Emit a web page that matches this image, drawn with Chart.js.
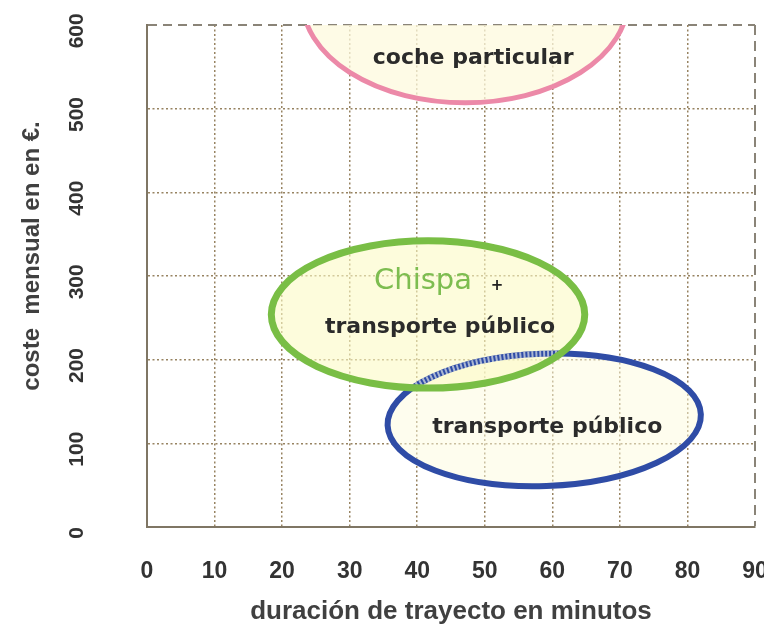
<!DOCTYPE html>
<html><head><meta charset="utf-8">
<style>html,body{margin:0;padding:0;background:#fff;}#wrap{width:764px;height:627px;}</style>
<script src="https://cdn.jsdelivr.net/npm/chart.js@4.4.0/dist/chart.umd.min.js"></script>
</head><body><div id="wrap"><canvas id="c" width="764" height="627"></canvas></div>
<script>
// ---- data ----
const xTickValues = [0, 10, 20, 30, 40, 50, 60, 70, 80, 90];
const yTickValues = [0, 100, 200, 300, 400, 500, 600];
const groupNames = ['coche particular', 'Chispa + transporte público', 'transporte público'];
const durationCenter = [47.1, 41.6, 58.8];      // minutes
const costCenter = [630, 254, 128];             // € / month
const durationHalfRange = [24.1, 23.2, 23.2];   // minutes
const costHalfRange = [123, 88, 79];            // €

// ---- styles ----
const FONT = '"Liberation Sans", Arial, sans-serif';
const LFONT = '"DejaVu Sans", sans-serif';
const ellipseStyles = [
  {stroke: '#ec89a8', fill: 'rgba(253,250,222,0.75)', width: 5, tilt: 0},
  {stroke: '#79be45', fill: 'rgba(252,250,196,0.6)', width: 7, tilt: 0},
  {stroke: '#2f4ca6', fill: 'rgba(253,252,222,0.5)', width: 6, tilt: -0.035}
];
const ellipseTexts = [
  [{text: 'coche particular', dx: 8, dy: 58, font: 'bold 22px ' + LFONT, color: '#2b2b2b'}],
  [{text: 'Chispa', dx: -5, dy: -33, font: '29px ' + LFONT, color: '#7dbd50'},
   {text: '+', dx: 69, dy: -28, font: 'bold 15px ' + LFONT, color: '#222'},
   {text: 'transporte público', dx: 12, dy: 13, font: 'bold 22px ' + LFONT, color: '#2b2b2b'}],
  [{text: 'transporte público', dx: 3, dy: 7, font: 'bold 22px ' + LFONT, color: '#2b2b2b'}]
];

const ellipsePlugin = {
  id: 'ellipses',
  afterDatasetsDraw(chart) {
    const {ctx, chartArea: a, scales: {x, y}} = chart;
    const geo = groupNames.map((n, i) => {
      const cx = x.getPixelForValue(durationCenter[i]);
      const cy = y.getPixelForValue(costCenter[i]);
      return {
        cx, cy,
        rx: Math.abs(x.getPixelForValue(durationCenter[i] + durationHalfRange[i]) - cx),
        ry: Math.abs(y.getPixelForValue(costCenter[i] + costHalfRange[i]) - cy),
        rot: ellipseStyles[i].tilt
      };
    });
    const path = g => { ctx.beginPath(); ctx.ellipse(g.cx, g.cy, g.rx, g.ry, g.rot, 0, Math.PI * 2); };
    const fill = i => { path(geo[i]); ctx.fillStyle = ellipseStyles[i].fill; ctx.fill(); };
    const stroke = i => { path(geo[i]); ctx.strokeStyle = ellipseStyles[i].stroke; ctx.lineWidth = ellipseStyles[i].width; ctx.stroke(); };
    ctx.save();
    ctx.beginPath(); ctx.rect(a.left, a.top, a.right - a.left, a.bottom - a.top); ctx.clip();
    fill(0); stroke(0);
    fill(2); fill(1);
    stroke(2);
    // hatched look of the blue arc inside the green ellipse
    ctx.save();
    path(geo[1]); ctx.clip();
    path(geo[2]);
    ctx.setLineDash([2, 2]);
    ctx.strokeStyle = 'rgba(255,255,240,0.6)'; ctx.lineWidth = 6; ctx.stroke();
    ctx.restore();
    stroke(1);
    ctx.restore();
    // texts
    ctx.save();
    ctx.textAlign = 'center'; ctx.textBaseline = 'middle';
    ellipseTexts.forEach((list, i) => {
      list.forEach(t => {
        ctx.font = t.font; ctx.fillStyle = t.color;
        ctx.fillText(t.text, geo[i].cx + t.dx, geo[i].cy + t.dy);
      });
    });
    ctx.restore();
  }
};

new Chart(document.getElementById('c'), {
  type: 'scatter',
  data: {
    datasets: [{
      label: 'grupos',
      data: groupNames.map((n, i) => ({x: durationCenter[i], y: costCenter[i]})),
      pointRadius: 0, pointHoverRadius: 0
    }]
  },
  options: {
    responsive: false, animation: false, devicePixelRatio: 1,
    layout: {padding: {left: 0, right: 9, top: 25, bottom: 0}},
    plugins: {legend: {display: false}, tooltip: {enabled: false}},
    scales: {
      x: {
        type: 'linear', min: xTickValues[0], max: xTickValues[xTickValues.length - 1],
        afterBuildTicks: s => { s.ticks = xTickValues.map(v => ({value: v})); },
        ticks: {padding: 31, autoSkip: false, maxRotation: 0, minRotation: 0, color: '#333',
          font: {family: FONT, size: 23, weight: 'bold'}},
        grid: {drawTicks: false,
          color: c => c.tick && c.tick.value === 90 ? '#8a8478' : 'rgba(140,118,80,0.9)',
          lineWidth: c => c.tick && c.tick.value === 90 ? 2 : 1.5},
        border: {display: true, color: '#7f7664', width: 2,
          dash: c => c.tick && c.tick.value === 90 ? [10, 6] : [2, 2.5]},
        title: {display: true, text: 'duración de trayecto en minutos', color: '#404040',
          font: {family: FONT, size: 26, weight: 'bold'}, padding: {top: 0, bottom: 0}},
        afterFit: s => { s.height = 100; s.paddingLeft = 0; s.paddingRight = 0; }
      },
      y: {
        type: 'linear', min: yTickValues[0], max: yTickValues[yTickValues.length - 1],
        afterBuildTicks: s => { s.ticks = yTickValues.map(v => ({value: v})); },
        ticks: {padding: 46, minRotation: 90, maxRotation: 90, crossAlign: 'center', color: '#333',
          font: {family: FONT, size: 21, weight: 'bold'},
          callback: v => v + '  '},
        grid: {drawTicks: false,
          color: c => c.tick && c.tick.value === 600 ? '#8a8478' : 'rgba(140,118,80,0.9)',
          lineWidth: c => c.tick && c.tick.value === 600 ? 2 : 1.5},
        border: {display: true, color: '#7f7664', width: 2,
          dash: c => c.tick && c.tick.value === 600 ? [9, 6] : [2, 2.5]},
        title: {display: true, text: '      coste  mensual en en €.', color: '#404040',
          font: {family: FONT, size: 24, weight: 'bold'}, padding: {top: 18, bottom: 0}},
        afterFit: s => { s.width = 147; s.paddingTop = 0; s.paddingBottom = 0; }
      }
    }
  },
  plugins: [ellipsePlugin]
});
</script>
</body></html>
